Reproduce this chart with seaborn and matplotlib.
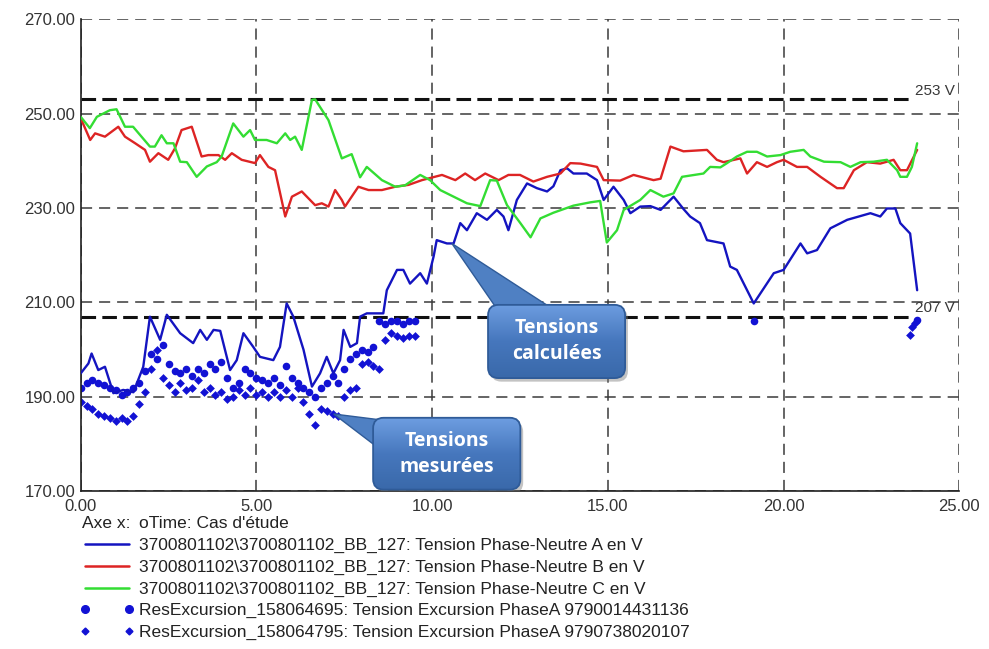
import numpy as np
import matplotlib
matplotlib.use("Agg")
import matplotlib.pyplot as plt
import seaborn as sns
from matplotlib.lines import Line2D
from matplotlib.patches import FancyBboxPatch, Polygon
from matplotlib.colors import LinearSegmentedColormap
from matplotlib.ticker import MultipleLocator, FixedLocator, FormatStrFormatter

# ---- Calculated phase voltages (time in h, voltage in V) ----
phaseA_x = [0.0, 0.22, 0.31, 0.50, 0.69, 0.93, 1.21, 1.50, 1.78, 1.97, 2.26, 2.45, 2.83, 3.20, 3.40,
            3.59, 3.78, 3.97, 4.25, 4.44, 4.63, 4.91, 5.10, 5.48, 5.67, 5.86, 6.05, 6.34, 6.58, 6.81,
            7.00, 7.19, 7.38, 7.48, 7.67, 7.86, 7.95, 8.14, 8.61, 8.71, 9.00, 9.18, 9.37, 9.66, 9.85,
            10.04, 10.13, 10.42, 10.61, 10.80, 10.99, 11.27, 11.56, 11.84, 12.03, 12.17, 12.41, 12.70,
            12.98, 13.27, 13.45, 13.65, 13.84, 14.02, 14.40, 14.69, 14.88, 15.16, 15.45, 15.64, 15.92,
            16.21, 16.50, 16.87, 17.15, 17.34, 17.62, 17.82, 18.29, 18.48, 18.67, 19.15, 19.72, 20.00,
            20.48, 20.67, 20.95, 21.33, 21.81, 22.47, 22.75, 22.94, 23.18, 23.32, 23.60, 23.80]
phaseA_y = [195.0, 197.1, 199.2, 195.7, 196.4, 190.8, 191.5, 191.0, 196.4, 207.0, 202.1, 207.4, 203.5,
            201.4, 204.2, 202.1, 204.2, 204.0, 195.7, 197.8, 203.5, 200.6, 198.5, 197.8, 200.6, 209.8,
            207.0, 200.0, 192.2, 195.0, 198.5, 195.0, 197.8, 204.2, 200.6, 201.4, 207.0, 207.7, 207.7,
            212.6, 216.9, 216.9, 214.0, 216.2, 214.0, 219.7, 223.2, 222.5, 222.5, 226.8, 225.3, 228.9,
            227.5, 229.6, 228.2, 225.3, 231.7, 235.2, 234.2, 233.5, 234.6, 238.0, 238.4, 237.3, 237.3,
            235.9, 231.7, 234.5, 231.7, 228.9, 230.3, 230.4, 229.6, 232.4, 229.8, 228.2, 226.8, 223.2,
            222.5, 217.6, 216.9, 209.8, 216.2, 216.9, 222.5, 220.4, 221.1, 225.7, 227.5, 228.9, 228.2,
            229.9, 229.9, 226.8, 224.6, 212.6]

phaseB_x = [0.0, 0.27, 0.41, 0.69, 1.07, 1.26, 1.55, 1.83, 1.97, 2.21, 2.49, 2.68, 2.87, 3.16, 3.44,
            3.63, 3.92, 4.11, 4.30, 4.58, 4.96, 5.10, 5.34, 5.53, 5.82, 6.01, 6.29, 6.67, 6.86, 7.05,
            7.24, 7.43, 7.52, 7.90, 8.19, 8.57, 8.95, 9.33, 9.71, 10.28, 10.66, 10.94, 11.22, 11.51,
            11.89, 12.17, 12.50, 12.88, 13.27, 13.65, 13.93, 14.22, 14.69, 14.88, 15.35, 15.73, 16.30,
            16.50, 16.78, 17.15, 17.82, 18.10, 18.29, 18.77, 18.96, 19.24, 19.53, 19.81, 20.00, 20.38,
            20.67, 21.05, 21.52, 21.71, 22.00, 22.37, 22.75, 23.13, 23.32, 23.51, 23.80]
phaseB_y = [249.0, 244.4, 245.8, 245.1, 247.2, 245.1, 243.7, 242.3, 239.8, 241.6, 240.2, 242.6, 246.5,
            247.2, 240.9, 241.2, 241.2, 240.2, 241.6, 240.2, 239.5, 241.2, 238.7, 238.0, 228.2, 232.4,
            233.5, 230.6, 231.0, 230.3, 233.8, 231.7, 230.3, 234.5, 233.8, 233.8, 234.5, 234.9, 235.9,
            237.0, 235.9, 237.3, 235.9, 237.3, 235.9, 237.0, 237.0, 235.6, 236.6, 237.3, 239.5, 239.4,
            238.7, 235.9, 235.8, 237.0, 235.9, 236.2, 243.0, 242.0, 242.3, 240.2, 239.7, 240.5, 237.3,
            239.7, 238.7, 239.7, 240.2, 238.7, 238.7, 236.6, 234.2, 234.2, 238.0, 239.7, 239.4, 240.2,
            238.0, 238.0, 242.3]

phaseC_x = [0.0, 0.26, 0.46, 0.83, 1.02, 1.26, 1.49, 1.97, 2.11, 2.30, 2.45, 2.64, 2.83, 3.02, 3.30,
            3.59, 3.87, 4.01, 4.34, 4.63, 4.82, 4.96, 5.29, 5.58, 5.82, 5.96, 6.10, 6.29, 6.58, 6.67,
            7.05, 7.43, 7.71, 7.95, 8.14, 8.57, 8.95, 9.23, 9.66, 9.94, 10.23, 10.61, 10.99, 11.37,
            11.65, 11.84, 12.13, 12.51, 12.80, 13.08, 13.45, 14.02, 14.50, 14.78, 14.97, 15.26, 15.45,
            15.92, 16.21, 16.58, 16.87, 17.11, 17.72, 17.91, 18.20, 18.39, 18.67, 18.96, 19.24, 19.53,
            19.91, 20.19, 20.57, 20.76, 21.15, 21.62, 21.90, 22.19, 22.56, 22.94, 23.23, 23.32, 23.51,
            23.65, 23.80]
phaseC_y = [249.3, 246.9, 249.3, 250.7, 250.9, 247.2, 247.2, 243.0, 243.0, 245.4, 243.7, 243.7, 239.8,
            239.7, 236.6, 238.8, 239.7, 240.9, 247.9, 245.1, 246.5, 244.4, 244.4, 243.7, 245.8, 244.4,
            245.1, 242.3, 252.9, 253.0, 248.6, 240.5, 241.4, 236.5, 238.7, 235.9, 234.5, 234.8, 237.0,
            235.9, 233.8, 232.4, 231.0, 230.4, 235.9, 235.8, 230.6, 226.8, 223.8, 227.8, 229.0, 230.5,
            231.2, 231.5, 222.7, 225.3, 229.6, 231.7, 233.8, 232.4, 233.1, 236.6, 237.3, 238.7, 238.6,
            239.5, 240.9, 241.9, 241.9, 240.9, 241.2, 241.9, 242.3, 240.9, 239.8, 239.7, 238.7, 239.7,
            239.8, 240.2, 238.0, 236.6, 236.6, 238.7, 243.7]

# ---- Measured excursions (two meters) ----
meas1_x = [0.0, 0.17, 0.33, 0.5, 0.67, 0.83, 1.0, 1.17, 1.33, 1.5, 1.67, 1.83,
           2.0, 2.17, 2.33, 2.5, 2.67, 2.83, 3.0, 3.17, 3.33, 3.5, 3.67, 3.83,
           4.0, 4.17, 4.33, 4.5, 4.67, 4.83, 5.0, 5.17, 5.33, 5.5, 5.67, 5.83,
           6.0, 6.17, 6.33, 6.5, 6.67, 6.83, 7.0, 7.17, 7.33, 7.5, 7.67, 7.83,
           8.0, 8.17, 8.33, 8.5, 8.67, 8.83, 9.0, 9.17, 9.33, 9.5, 19.15, 23.8]
meas1_y = [192, 193, 193.5, 193, 192.5, 192, 191.5, 190.5, 191, 192, 193, 195.5,
           199, 198, 201, 197, 195.5, 195, 196, 194.5, 196, 195, 197, 196,
           197.5, 194, 192, 193, 196, 195, 194, 193.5, 193, 194, 192.5, 196.5,
           194, 193, 192, 191, 190, 192, 193, 194.5, 193, 196, 198, 199,
           200, 199.5, 200.5, 206, 205.5, 206, 206, 205.5, 206, 206, 206.0, 206.3]

meas2_x = [0.0, 0.17, 0.33, 0.5, 0.67, 0.83, 1.0, 1.17, 1.33, 1.5, 1.67, 1.83,
           2.0, 2.17, 2.33, 2.5, 2.67, 2.83, 3.0, 3.17, 3.33, 3.5, 3.67, 3.83,
           4.0, 4.17, 4.33, 4.5, 4.67, 4.83, 5.0, 5.17, 5.33, 5.5, 5.67, 5.83,
           6.0, 6.17, 6.33, 6.5, 6.67, 6.83, 7.0, 7.17, 7.33, 7.5, 7.67, 7.83,
           8.0, 8.17, 8.33, 8.5, 8.67, 8.83, 9.0, 9.17, 9.33, 9.5, 23.6, 23.65, 23.75]
meas2_y = [189, 188, 187.5, 186.5, 186, 185.5, 185, 185.5, 185, 186, 188.5, 191,
           196, 200, 194, 192.5, 191, 193, 191.5, 192, 193.5, 191, 192, 190.5,
           191, 189.5, 190, 191.5, 190.5, 192, 190.5, 191, 190, 191, 190, 191.5,
           190, 192, 189, 186.5, 184, 187.5, 187, 186.5, 186, 190, 191.5, 192,
           197, 197.5, 196.5, 196, 202, 203.5, 203, 202.5, 203, 203, 203.1, 204.9, 205.6]

limit_values = [253, 207]
limit_labels = ["253 V", "207 V"]

x_ticks = [0, 5, 10, 15, 20, 25]
y_ticks = [170, 190, 210, 230, 250, 270]

axis_caption = ["Axe x:", "oTime: Cas d'étude"]
series_labels = [
    "3700801102\\3700801102_BB_127: Tension Phase-Neutre A en V",
    "3700801102\\3700801102_BB_127: Tension Phase-Neutre B en V",
    "3700801102\\3700801102_BB_127: Tension Phase-Neutre C en V",
    "ResExcursion_158064695: Tension Excursion PhaseA 9790014431136",
    "ResExcursion_158064795: Tension Excursion PhaseA 9790738020107",
]

BLUE, RED, GREEN = "#1414c0", "#dd2424", "#33dd33"
DOT = "#1212d4"

sns.set_theme(style="white")
plt.rcParams["font.family"] = ["Liberation Sans", "DejaVu Sans"]
plt.rcParams["lines.scale_dashes"] = False

fig = plt.figure(figsize=(9.89, 6.49), dpi=100)
ax = fig.add_axes([0.0816, 0.2427, 0.8884, 0.728])
ax.set_xlim(x_ticks[0], x_ticks[-1])
ax.set_ylim(y_ticks[0], y_ticks[-1])

# Axes frame, ticks and dashed grid
ax.xaxis.set_major_locator(FixedLocator(x_ticks))
ax.yaxis.set_major_locator(FixedLocator(y_ticks))
ax.xaxis.set_minor_locator(MultipleLocator(2.5))
ax.yaxis.set_minor_locator(MultipleLocator(10))
ax.xaxis.set_major_formatter(FormatStrFormatter("%.2f"))
ax.yaxis.set_major_formatter(FormatStrFormatter("%.2f"))
ax.tick_params(which="major", length=0, labelsize=12, labelcolor="#333333")
ax.tick_params(axis="y", which="major", pad=4)
ax.tick_params(axis="x", which="major", pad=5.5)
ax.tick_params(which="minor", length=3, width=1, direction="in", color="#303030")
ax.grid(True, which="major", color="#3a3a3a", linewidth=1.1, linestyle=(0, (8, 5)))
ax.set_axisbelow(True)
for side in ("top", "right"):
    ax.spines[side].set_visible(False)
for side in ("left", "bottom"):
    ax.spines[side].set_color("#202020")
    ax.spines[side].set_linewidth(1.2)
    ax.spines[side].set_zorder(3)

# Voltage limits
for v, lab in zip(limit_values, limit_labels):
    ax.hlines(v, 0, 23.65, colors="#111111", linewidth=2.2, linestyles=(0, (10.5, 4.5)), zorder=2)
    ax.text(24.88, v + 0.95, lab, ha="right", va="baseline", fontsize=11, color="#383838", zorder=4)

# Measured excursions
sns.scatterplot(x=meas1_x, y=meas1_y, ax=ax, marker="o", s=30, color=DOT, linewidth=0,
                legend=False, zorder=3)
sns.scatterplot(x=meas2_x, y=meas2_y, ax=ax, marker="D", s=20, color=DOT, linewidth=0,
                legend=False, zorder=3)

# Calculated voltages
for xs, ys, c in ((phaseA_x, phaseA_y, BLUE), (phaseB_x, phaseB_y, RED), (phaseC_x, phaseC_y, GREEN)):
    sns.lineplot(x=xs, y=ys, ax=ax, color=c, linewidth=1.7, estimator=None, sort=False,
                 legend=False, zorder=4)

# Callout bubbles
fig.canvas.draw()
bb = ax.get_window_extent()
aspect = (bb.width / 25.0) / (bb.height / 100.0)
grad = LinearSegmentedColormap.from_list("bubble", ["#6d9de0", "#4677bd", "#3a69aa"])


def callout(lines, box, tip, base1, base2):
    x0, x1, y0, y1 = box
    shadow = FancyBboxPatch((x0 + 0.08, y0 - 0.75), x1 - x0, y1 - y0,
                            boxstyle="round,pad=0,rounding_size=0.3", mutation_aspect=aspect,
                            facecolor="#7a7a7a", edgecolor="none", alpha=0.45, zorder=6)
    ax.add_patch(shadow)
    ptr = Polygon([tip, base1, base2], closed=True, facecolor="#4f80c3", edgecolor="#2f5b98",
                  linewidth=1.0, zorder=6.5)
    ax.add_patch(ptr)
    frame = FancyBboxPatch((x0, y0), x1 - x0, y1 - y0,
                           boxstyle="round,pad=0,rounding_size=0.3", mutation_aspect=aspect,
                           facecolor="none", edgecolor="#2f5b98", linewidth=1.3, zorder=8)
    ax.add_patch(frame)
    img = ax.imshow(np.linspace(0, 1, 64).reshape(-1, 1), cmap=grad, extent=(x0, x1, y0, y1),
                    origin="upper", aspect="auto", zorder=7, interpolation="bilinear")
    img.set_clip_path(frame)
    ax.text((x0 + x1) / 2, (y0 + y1) / 2, lines, ha="center", va="center", color="white",
            fontsize=14, fontweight="bold", family=["Open Sans", "DejaVu Sans"],
            linespacing=1.4, zorder=9)


callout("Tensions\ncalculées", (11.59, 15.49, 194.0, 209.5),
        (10.56, 222.5), (12.05, 206.4), (13.40, 208.8))
callout("Tensions\nmesurées", (8.32, 12.51, 170.4, 185.6),
        (7.20, 186.4), (8.40, 179.6), (8.70, 185.0))

ax.set_xlim(x_ticks[0], x_ticks[-1])
ax.set_ylim(y_ticks[0], y_ticks[-1])
ax.set_aspect("auto")

# Legend block under the plot
fig.text(82 / 989, 1 - 524 / 649, axis_caption[0], fontsize=12.5, color="#222222", va="center")
fig.text(139 / 989, 1 - 524 / 649, axis_caption[1], fontsize=12.5, color="#222222", va="center")
handles = [
    Line2D([], [], color=BLUE, linewidth=1.8),
    Line2D([], [], color=RED, linewidth=1.8),
    Line2D([], [], color=GREEN, linewidth=1.8),
    Line2D([], [], color=DOT, marker="o", markersize=5.5, linestyle="none"),
    Line2D([], [], color=DOT, marker="D", markersize=3.5, linestyle="none"),
]
fig.legend(handles, series_labels, loc="upper left", bbox_to_anchor=(80 / 989, 1 - 538 / 649),
           frameon=False, fontsize=12.5, handlelength=3.1, handletextpad=0.3, labelspacing=0.37,
           borderpad=0, borderaxespad=0, numpoints=2, labelcolor="#222222")

fig.savefig("out.png", dpi=100, facecolor="white")
